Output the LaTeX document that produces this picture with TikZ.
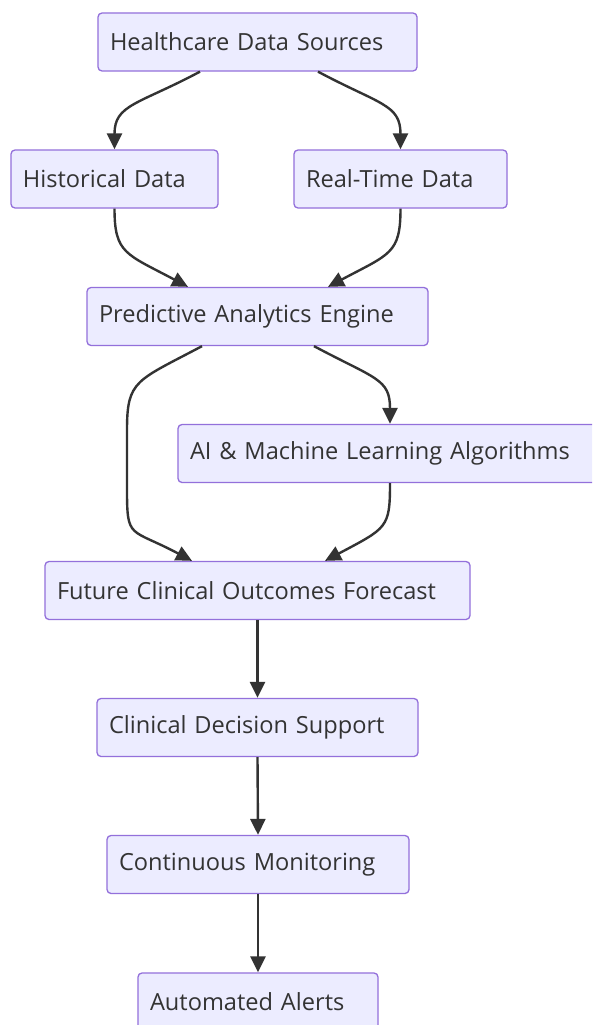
\documentclass[tikz,border=0pt]{standalone}
\usepackage{fontspec}
\setmainfont{Open Sans}
\usetikzlibrary{arrows.meta,calc}
\definecolor{boxfill}{HTML}{ECECFF}
\definecolor{boxline}{HTML}{9370DB}
\definecolor{ink}{HTML}{333333}
\tikzset{
  box/.style={draw=boxline, fill=boxfill, rounded corners=4pt, line width=1.3pt,
    minimum height=58pt, inner xsep=12pt, inner ysep=0pt, align=left,
    text=ink, font=\fontsize{23.6}{27}\selectfont, anchor=center},
  flow/.style={draw=ink, line width=2.4pt,
    -{Triangle[length=16pt,width=15pt]}}
}
\begin{document}
\begin{tikzpicture}[x=1pt,y=-1pt]
\useasboundingbox (0,0) rectangle (592,1025);
\fill[white] (0,0) rectangle (592,1025);
\clip (0,0) rectangle (592,1025);

% boxes (text width = box width - 24pt)
\node[box, text width=295pt] (hds)  at (257.5,42)   {Healthcare Data Sources};
\node[box, text width=183pt] (hist) at (114.5,179)  {Historical Data};
\node[box, text width=189pt] (rt)   at (400.5,179)  {Real-Time Data};
\node[box, text width=317pt] (pae)  at (257.5,316.5){Predictive Analytics Engine};
\node[box, text width=398pt] (ai)   at (389,453.5)  {AI \& Machine Learning Algorithms};
\node[box, text width=401pt] (fco)  at (257.5,590.5){Future Clinical Outcomes Forecast};
\node[box, text width=297pt] (cds)  at (257.5,727.5){Clinical Decision Support};
\node[box, text width=278pt] (cm)   at (258,864.5)  {Continuous Monitoring};
\node[box, text width=216pt] (aa)   at (258,1002)   {Automated Alerts};

% connectors
\draw[flow] ([xshift=-57.5pt]hds.south) .. controls +(-62,33) and +(0,-45) .. (hist.north);
\draw[flow] ([xshift=60.5pt]hds.south) .. controls +(62,33) and +(0,-45) .. (rt.north);
\draw[flow] (hist.south) .. controls +(0,45) and +(-62,-33) .. ([xshift=-69.5pt]pae.north);
\draw[flow] (rt.south) .. controls +(0,45) and +(62,-33) .. ([xshift=70.5pt]pae.north);
\draw[flow] ([xshift=-55.5pt]pae.south) .. controls +(-66,35) and +(0,-50) .. (127,430)
  -- (127,490) .. controls +(0,50) and +(-62,-33) .. ([xshift=-65.5pt]fco.north);
\draw[flow] ([xshift=56.5pt]pae.south) .. controls +(62,33) and +(0,-45) .. ([xshift=1pt]ai.north);
\draw[flow] ([xshift=1pt]ai.south) .. controls +(0,45) and +(62,-33) .. ([xshift=67.5pt]fco.north);
\draw[flow] (fco.south) -- (cds.north);
\draw[flow] (cds.south) -- (cm.north);
\draw[flow] (cm.south) -- (aa.north);
\end{tikzpicture}
\end{document}
